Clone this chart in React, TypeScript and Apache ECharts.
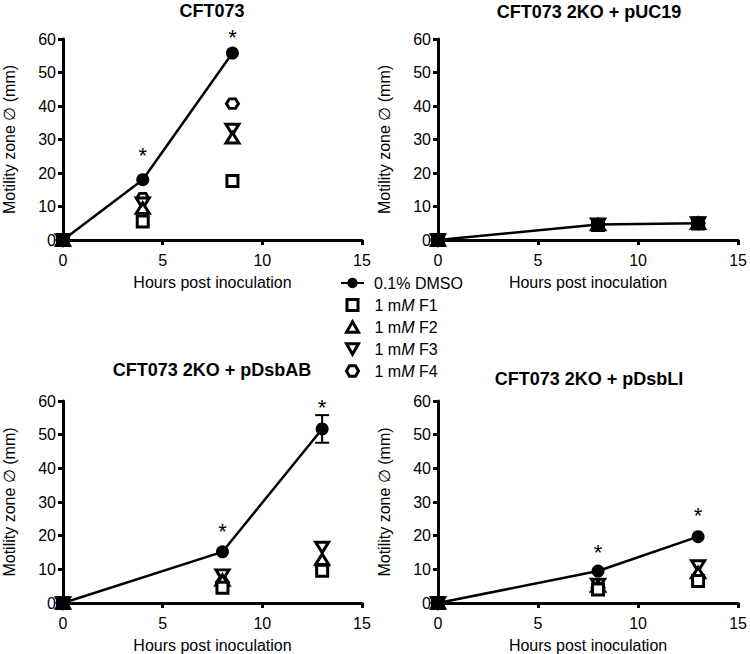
import React, { useEffect, useRef } from 'react';
import * as echarts from 'echarts';

const FONT = '"Liberation Sans", Arial, Helvetica, sans-serif';

const panelTitles = ['CFT073', 'CFT073 2KO + pUC19', 'CFT073 2KO + pDsbAB', 'CFT073 2KO + pDsbLI'];
const hours = [
  [0, 4, 8.5],
  [0, 8, 13],
  [0, 8, 13],
  [0, 8, 13],
];
const dmso = [
  [0, 18, 55.8],
  [0, 4.6, 5.0],
  [0, 15.2, 51.7],
  [0, 9.5, 19.7],
];
const f1 = [
  [0, 5.5, 17.6],
  [0, 4.5, 4.9],
  [0, 4.5, 9.6],
  [0, 4.0, 6.5],
];
const f2 = [
  [0, 9.5, 30.5],
  [0, 4.6, 5.0],
  [0, 6.8, 13.0],
  [0, 5.0, 9.0],
];
const f3 = [
  [0, 11, 33],
  [0, 4.7, 5.1],
  [0, 8.3, 16.5],
  [0, 5.5, 11],
];
const f4 = [
  [0, 12.5, 40.7],
  [0, 4.6, 5.0],
  [0, 6.0, 11.0],
  [0, 4.5, 7.5],
];
// error bars for DMSO: [hour, low, high]
const dmsoErr: number[][][] = [[], [], [[13, 47.6, 55.8]], []];
// significance asterisks: [hour, level]
const sigMarks: number[][][] = [
  [[4, 25.2], [8.5, 60.3]],
  [],
  [[8, 21.1], [13, 58.2]],
  [[8, 14.9], [13, 26.1]],
];

const seriesNames = ['0.1% DMSO', '1 mM F1', '1 mM F2', '1 mM F3', '1 mM F4'];
const xTicks = { min: 0, max: 15, interval: 5 };
const yTicks = { min: 0, max: 60, interval: 10 };

const grids = [
  { left: 62, top: 39, width: 300, height: 201 },
  { left: 438, top: 39, width: 302, height: 201 },
  { left: 62, top: 401, width: 300, height: 202 },
  { left: 438, top: 401, width: 302, height: 202 },
];
const titleTops = [2, 3, 361, 370];

const HEX = 'path://M-1,0 L-0.5,-0.866 L0.5,-0.866 L1,0 L0.5,0.866 L-0.5,0.866 Z';
const TRI_UP = 'path://M1,0 L2,1.732 L0,1.732 Z';
const TRI_DOWN = 'path://M0,0 L2,0 L1,1.732 Z';
const SQUARE = 'path://M0,0 L1,0 L1,1 L0,1 Z';

export default function App() {
  const ref = useRef<HTMLDivElement>(null);
  useEffect(() => {
    if (!ref.current) return;
    const chart = echarts.init(ref.current, null, { renderer: 'svg' });

    const axisCommon = {
      axisLine: { show: true, onZero: false, lineStyle: { color: '#000', width: 3 } },
      axisTick: { show: true, length: 5, lineStyle: { color: '#000', width: 3 } },
      splitLine: { show: false },
      nameTextStyle: { fontSize: 16, color: '#000', fontFamily: FONT },
    };

    const xAxis = grids.map((_, i) => ({
      type: 'value',
      gridIndex: i,
      ...xTicks,
      ...axisCommon,
      name: 'Hours post inoculation',
      nameLocation: 'middle',
      nameGap: 34,
      axisLabel: { fontSize: 16, color: '#000', fontFamily: FONT, margin: 12 },
    }));
    const yAxis = grids.map((_, i) => ({
      type: 'value',
      gridIndex: i,
      ...yTicks,
      ...axisCommon,
      name: 'Motility zone \u2205 (mm)',
      nameLocation: 'middle',
      nameGap: 46,
      axisLabel: { fontSize: 16, color: '#000', fontFamily: FONT, margin: 7 },
    }));

    const hollow = { color: '#fff', borderColor: '#000', borderWidth: 3, opacity: 1 };
    const series: any[] = [];
    grids.forEach((_, i) => {
      const pts = (arr: number[][]) => hours[i].map((h, k) => [h, arr[i][k]]);
      const defs = [
        { name: seriesNames[4], data: f4, symbol: HEX, size: [12, 11] },
        { name: seriesNames[3], data: f3, symbol: TRI_DOWN, size: [13, 12] },
        { name: seriesNames[2], data: f2, symbol: TRI_UP, size: [13, 12] },
        { name: seriesNames[1], data: f1, symbol: SQUARE, size: 11 },
      ];
      defs.forEach((d) => {
        series.push({
          type: 'scatter',
          name: d.name,
          xAxisIndex: i,
          yAxisIndex: i,
          symbol: d.symbol,
          symbolSize: d.size,
          symbolKeepAspect: true,
          itemStyle: hollow,
          data: pts(d.data),
          z: 2,
        });
      });
      series.push({
        type: 'line',
        name: seriesNames[0],
        xAxisIndex: i,
        yAxisIndex: i,
        symbol: 'circle',
        symbolSize: 13,
        showAllSymbol: true,
        lineStyle: { color: '#000', width: 2.5 },
        itemStyle: { color: '#000', opacity: 1 },
        data: pts(dmso),
        z: 3,
      });
      if (dmsoErr[i].length) {
        series.push({
          type: 'custom',
          name: 'err',
          xAxisIndex: i,
          yAxisIndex: i,
          data: dmsoErr[i],
          z: 3,
          renderItem: (params: any, api: any) => {
            const x = api.value(0);
            const lo = api.coord([x, api.value(1)]);
            const hi = api.coord([x, api.value(2)]);
            const w = 7;
            const st = { stroke: '#000', lineWidth: 2 };
            return {
              type: 'group',
              children: [
                { type: 'line', shape: { x1: lo[0], y1: lo[1], x2: hi[0], y2: hi[1] }, style: st },
                { type: 'line', shape: { x1: lo[0] - w, y1: lo[1], x2: lo[0] + w, y2: lo[1] }, style: st },
                { type: 'line', shape: { x1: hi[0] - w, y1: hi[1], x2: hi[0] + w, y2: hi[1] }, style: st },
              ],
            };
          },
        });
      }
      if (sigMarks[i].length) {
        series.push({
          type: 'scatter',
          name: 'sig',
          xAxisIndex: i,
          yAxisIndex: i,
          symbolSize: 1,
          itemStyle: { color: 'rgba(0,0,0,0)', opacity: 1 },
          clip: false,
          silent: true,
          label: {
            show: true,
            position: 'inside',
            formatter: '*',
            fontSize: 22,
            color: '#000',
            opacity: 1,
            fontFamily: FONT,
          },
          data: sigMarks[i],
          z: 4,
        });
      }
    });

    const legendText = {
      fontSize: 16,
      color: '#000',
      fontFamily: FONT,
      rich: { i: { fontStyle: 'italic', fontSize: 16, color: '#000', fontFamily: FONT } },
    };
    const fmt = (n: string) => n.replace('mM', 'm{i|M}');

    const option: any = {
      animation: false,
      backgroundColor: '#fff',
      title: panelTitles.map((t, i) => ({
        text: t,
        left: grids[i].left + grids[i].width / 2,
        top: titleTops[i],
        textAlign: 'center',
        padding: 0,
        textStyle: { fontSize: 18, fontWeight: 'bold', color: '#000', fontFamily: FONT },
      })),
      grid: grids.map((g) => ({ ...g, containLabel: false })),
      xAxis,
      yAxis,
      legend: [
        {
          orient: 'vertical',
          left: 340,
          top: 275,
          padding: 0,
          itemWidth: 23,
          itemHeight: 13,
          data: [seriesNames[0]],
          selectedMode: false,
          formatter: fmt,
          textStyle: { ...legendText, padding: [0, 0, 0, 5] },
        },
        {
          orient: 'vertical',
          left: 345,
          top: 297,
          padding: 0,
          itemWidth: 12,
          itemHeight: 11,
          itemGap: 6,
          data: seriesNames.slice(1),
          selectedMode: false,
          formatter: fmt,
          itemStyle: { color: '#fff', borderColor: '#000', borderWidth: 3 },
          textStyle: { ...legendText, padding: [0, 0, 0, 11], height: 16, lineHeight: 16 },
        },
      ],
      series,
    };
    chart.setOption(option);
    return () => chart.dispose();
  }, []);
  return (
    <div
      ref={ref}
      style={{ position: 'absolute', left: 0, top: 0, width: 750, height: 654, background: '#fff' }}
    />
  );
}
